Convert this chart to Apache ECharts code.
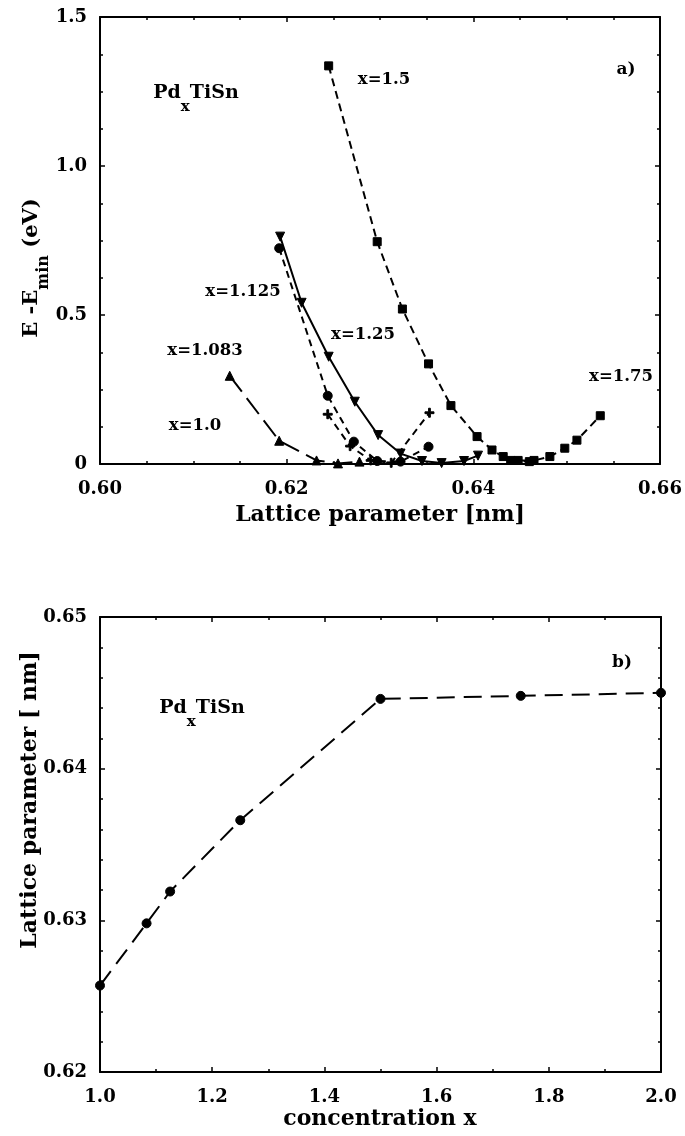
<!DOCTYPE html>
<html><head><meta charset="utf-8">
<script src="https://cdn.jsdelivr.net/npm/echarts@6/dist/echarts.min.js"></script>
<style>html,body{margin:0;padding:0;background:#fff}#c{width:685px;height:1136px}</style>
</head><body><div id="c"></div>
<script>
// ---------- tick labels ----------
const topXTickLabels = ['0.60', '0.62', '0.64', '0.66'];
const topYTickLabels = ['0', '0.5', '1.0', '1.5'];
const botXTickLabels = ['1.0', '1.2', '1.4', '1.6', '1.8', '2.0'];
const botYTickLabels = ['0.62', '0.63', '0.64', '0.65'];

// ---------- panel a) : E - Emin vs lattice parameter ----------
const latt_x100  = [0.6139, 0.6192, 0.6232, 0.6255, 0.6278];
const energy_x100 = [0.296, 0.078, 0.012, 0.002, 0.008];

const latt_x1083  = [0.6192, 0.6244, 0.6272, 0.6297, 0.6322, 0.6352];
const energy_x1083 = [0.724, 0.229, 0.075, 0.010, 0.008, 0.058];

const latt_x1125  = [0.6244, 0.6268, 0.6290, 0.6312, 0.6353];
const energy_x1125 = [0.167, 0.060, 0.012, 0.004, 0.172];

const latt_x125  = [0.6193, 0.6216, 0.6245, 0.6273, 0.6298, 0.6322, 0.6345, 0.6366, 0.6390, 0.6405];
const energy_x125 = [0.763, 0.541, 0.360, 0.209, 0.097, 0.035, 0.010, 0.003, 0.010, 0.028];

const latt_x15  = [0.6245, 0.6297, 0.6324, 0.6352, 0.6376, 0.6404, 0.6420, 0.6432, 0.6448, 0.6465];
const energy_x15 = [1.336, 0.746, 0.520, 0.336, 0.196, 0.092, 0.047, 0.025, 0.012, 0.012];

const latt_x175  = [0.6440, 0.6460, 0.6482, 0.6498, 0.6511, 0.6536];
const energy_x175 = [0.012, 0.008, 0.025, 0.053, 0.080, 0.162];

// ---------- panel b) : lattice parameter vs concentration ----------
const concentration = [1.0, 1.083, 1.125, 1.25, 1.5, 1.75, 2.0];
const latticeParam  = [0.6257, 0.6298, 0.6319, 0.6366, 0.6446, 0.6448, 0.6450];

// ---------- helpers ----------
const FAM = '"DejaVu Serif", serif';
const pairs = (xs, ys) => xs.map((x, i) => [x, ys[i]]);
const pick = arr => v => arr.find(s => Math.abs(parseFloat(s) - v) < 1e-6) || '';
const mctx = document.createElement('canvas').getContext('2d');
function tw(t, size) { mctx.font = 'bold ' + size + 'px ' + FAM; return mctx.measureText(t).width; }
function txtStyle(t, size, align) {
  return { text: t, fill: '#000', font: 'bold ' + size + 'px ' + FAM,
    fontFamily: FAM, fontSize: size, fontWeight: 'bold',
    align: align || 'left', textAlign: align || 'left', verticalAlign: 'middle', textVerticalAlign: 'middle' };
}
function label(t, cx, cy, size) {
  return { type: 'text', x: cx, y: cy, z: 100, style: txtStyle(t, size, 'center') };
}
// text with subscript: parts = [[text, size, dy], ...], centered at (cx, cy)
function subLabel(parts, cx, cy, rotate) {
  const widths = parts.map(p => tw(p[0], p[1]));
  const total = widths.reduce((a, b) => a + b, 0);
  let x = -total / 2;
  const children = parts.map((p, i) => {
    const el = { type: 'text', x: x, y: p[2], style: txtStyle(p[0], p[1], 'left') };
    x += widths[i];
    return el;
  });
  return { type: 'group', x: cx, y: cy, rotation: rotate ? Math.PI / 2 : 0, z: 100, children };
}

function axis(gridIndex, pos, min, max, interval, minorSplit, labels, margin, show) {
  return {
    type: 'value', gridIndex, position: pos, min, max, interval,
    axisLine: { onZero: false, lineStyle: { color: '#000', width: 2 } },
    axisTick: { show: true, inside: true, length: 5, lineStyle: { color: '#000', width: 1.5 } },
    minorTick: { show: true, splitNumber: minorSplit, length: 3, lineStyle: { color: '#000', width: 1.5 } },
    splitLine: { show: false }, minorSplitLine: { show: false },
    axisLabel: { show: show, margin: margin, color: '#000', fontFamily: FAM, fontWeight: 'bold', fontSize: 18,
      formatter: pick(labels) }
  };
}

const PLUS = 'path://M4,0 L6,0 L6,4 L10,4 L10,6 L6,6 L6,10 L4,10 L4,6 L0,6 L0,4 L4,4 Z';
function ser(name, xs, ys, symbol, size, dash, opts) {
  return Object.assign({
    name, type: 'line', xAxisIndex: 0, yAxisIndex: 0, data: pairs(xs, ys),
    symbol, symbolSize: size, showSymbol: true, clip: false,
    lineStyle: { color: '#000', width: 2, type: dash },
    itemStyle: { color: '#000', borderColor: '#000' }, animation: false, z: 3
  }, opts || {});
}

const chart = echarts.init(document.getElementById('c'), null, { renderer: 'canvas' });
chart.setOption({
  backgroundColor: '#fff',
  animation: false,
  grid: [
    { left: 100, top: 17, width: 560, height: 447 },
    { left: 100, top: 617, width: 561, height: 455 }
  ],
  xAxis: [
    axis(0, 'bottom', 0.60, 0.66, 0.02, 4, topXTickLabels, 16, true),
    axis(0, 'top', 0.60, 0.66, 0.02, 4, topXTickLabels, 16, false),
    axis(1, 'bottom', 1.0, 2.0, 0.2, 2, botXTickLabels, 16, true),
    axis(1, 'top', 1.0, 2.0, 0.2, 2, botXTickLabels, 16, false)
  ],
  yAxis: [
    axis(0, 'left', 0, 1.5, 0.5, 4, topYTickLabels, 13, true),
    axis(0, 'right', 0, 1.5, 0.5, 4, topYTickLabels, 13, false),
    axis(1, 'left', 0.62, 0.65, 0.01, 5, botYTickLabels, 13, true),
    axis(1, 'right', 0.62, 0.65, 0.01, 5, botYTickLabels, 13, false)
  ],
  series: [
    ser('x=1.0', latt_x100, energy_x100, 'triangle', 9, [20, 8]),
    ser('x=1.083', latt_x1083, energy_x1083, 'circle', 9, [7, 5]),
    ser('x=1.125', latt_x1125, energy_x1125, PLUS, 9, [7, 5]),
    ser('x=1.25', latt_x125, energy_x125, 'triangle', 9, 'solid', { symbolRotate: 180 }),
    ser('x=1.5', latt_x15, energy_x15, 'rect', 8, [8, 5]),
    ser('x=1.75', latt_x175, energy_x175, 'rect', 8, [8, 5]),
    ser('lattice', concentration, latticeParam, 'circle', 9, [18, 9], { xAxisIndex: 2, yAxisIndex: 2 })
  ],
  graphic: [
    // panel a annotations
    label('a)', 626, 70, 17),
    subLabel([['Pd', 19, 0], ['x', 15, 14], ['TiSn', 19, 0]], 196, 93),
    label('x=1.5', 384, 80, 16.5),
    label('x=1.125', 243, 292, 16.5),
    label('x=1.25', 363, 335, 16.5),
    label('x=1.083', 205, 351, 16.5),
    label('x=1.0', 195, 426, 16.5),
    label('x=1.75', 621, 377, 16.5),
    label('Lattice parameter [nm]', 380, 515, 22),
    subLabel([['E -E', 21, 0], ['min', 16, 12], [' (eV)', 21, 0]], 32, 268, true),
    // panel b annotations
    label('b)', 622, 663, 17),
    subLabel([['Pd', 19, 0], ['x', 15, 14], ['TiSn', 19, 0]], 202, 708),
    label('concentration x', 380, 1119, 22),
    subLabel([['Lattice parameter [ nm]', 22, 0]], 30, 800, true)
  ]
});
</script></body></html>
